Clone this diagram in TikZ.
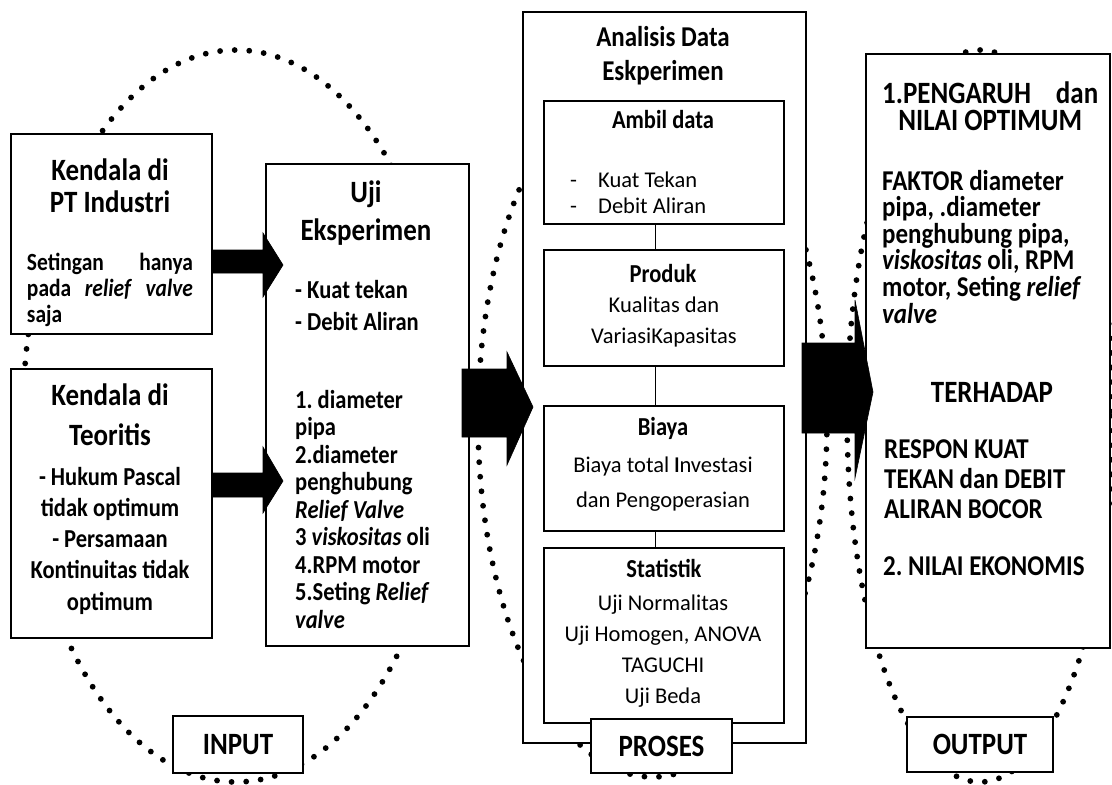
\documentclass[tikz,border=0pt]{standalone}
\usepackage{fontspec}
\setmainfont{Carlito}[BoldFeatures={FakeStretch=0.87},BoldItalicFeatures={FakeStretch=0.87}]
\newcommand\fsz[2]{\fontsize{#1pt}{#2pt}\selectfont\frenchspacing}
\newcommand\jline[2]{\leavevmode\hbox to #1pt{#2}}
\begin{document}
\begin{tikzpicture}[x=1pt,y=-1pt,
  box/.style={draw, line width=1.5pt, fill=white, inner sep=0pt, anchor=north west},
  lbl/.style={draw, line width=1.5pt, fill=white, inner sep=0pt, font=\bfseries\fsz{31}{36}},
  dotline/.style={line width=5.8pt, line cap=round, dash pattern=on 0pt off 14.6pt},
  blk/.style={fill=black, draw=black, line width=0.6pt, line join=miter},
  conn/.style={line width=1.4pt},
  ctxt/.style={inner sep=0pt, anchor=base, align=flush center, text width=240pt},
  ltxt/.style={inner sep=0pt, anchor=base west, align=flush left, text width=230pt},
  bd/.style={font=\bfseries\fsz{25.9}{30}}]
\useasboundingbox (0,0) rectangle (1112,785);
% dotted ellipses
\draw[dotline] (236,416) ellipse [x radius=213, y radius=366];
\draw[dotline] (652.5,420) ellipse [x radius=174.5, y radius=357];
\draw[dotline] (980,416) ellipse [x radius=133, y radius=366];
% INPUT column
\node[box, minimum width=201pt, minimum height=200pt] (kpt) at (10,133) {};
\node[box, minimum width=201pt, minimum height=269pt] (kt) at (10,368) {};
\node[box, minimum width=203pt, minimum height=482pt] (uji) at (265,163) {};
\node[ctxt, font=\bfseries\fsz{31}{32}, text width=195pt] (kptT) at (110,180) {Kendala di\\PT Industri};
\node[ctxt, font=\bfseries\fsz{24.7}{26}, text width=166pt] (kptB) at (110,270)
  {\jline{166}{Setingan\hfill hanya}\\\jline{166}{pada\hfill\textit{relief}\hfill\textit{valve}}\\\jline{166}{saja\hfill}};
\node[ctxt, font=\bfseries\fsz{31}{40}, text width=195pt] (ktT) at (110,405) {Kendala di\\Teoritis};
\node[ctxt, font=\bfseries\fsz{25.9}{31.3}, text width=195pt] (ktB) at (110,485)
  {- Hukum Pascal\\tidak optimum\\- Persamaan\\Kontinuitas tidak\\optimum};
\node[ctxt, font=\bfseries\fsz{31}{38}, text width=200pt] (ujiT) at (366,202) {Uji\\Eksperimen};
\node[ltxt, font=\bfseries\fsz{25.9}{32}, text width=170pt] (ujiA) at (295,298) {- Kuat tekan\\- Debit Aliran};
\node[ltxt, font=\bfseries\fsz{25.9}{27.5}, text width=170pt] (ujiB) at (295,408)
  {1. diameter\\pipa\\2.diameter\\penghubung\\\textit{Relief Valve}\\3 \textit{viskositas} oli\\4.RPM motor\\5.Seting \textit{Relief}\\\textit{valve}};
% PROSES column
\node[box, minimum width=283pt, minimum height=731pt] (ana) at (522,11) {};
\node[box, minimum width=240pt, minimum height=123pt] (ambil) at (543,100) {};
\node[box, minimum width=240pt, minimum height=116pt] (produk) at (543,249) {};
\node[box, minimum width=240pt, minimum height=125pt] (biaya) at (543,405) {};
\node[box, minimum width=240pt, minimum height=175pt] (stat) at (543,547) {};
\draw[conn] ([xshift=-8pt]ambil.south) -- ([xshift=-8pt]produk.north);
\draw[conn] ([xshift=-8pt]produk.south) -- ([xshift=-8pt]biaya.north);
\draw[conn] ([xshift=-8pt]biaya.south) -- ([xshift=-8pt]stat.north);
\node[ctxt, font=\bfseries\fsz{28.7}{34}] (anaT) at (663,46) {Analisis Data\\Eskperimen};
\node[ctxt, bd] (ambilT) at (663,128) {Ambil data};
\node[ltxt, font=\fsz{22.5}{26}] (ambilB) at (570,187)
  {\makebox[28pt][l]{-}Kuat Tekan\\\makebox[28pt][l]{-}Debit Aliran};
\node[ctxt, bd] (produkT) at (663,282) {Produk};
\node[ctxt, font=\fsz{22.5}{31}] (produkB) at (664,312) {Kualitas dan\\VariasiKapasitas};
\node[ctxt, bd] (biayaT) at (663,435) {Biaya};
\node[ctxt, font=\fsz{22.5}{35}] (biayaB) at (663,472) {Biaya total \textbf{I}nvestasi\\dan Pengoperasian};
\node[ctxt, bd] (statT) at (664,577) {Statistik};
\node[ctxt, font=\fsz{22.5}{31}] (statB) at (663,610) {Uji Normalitas\\Uji Homogen, ANOVA\\TAGUCHI\\Uji Beda};
% OUTPUT column
\node[box, minimum width=244pt, minimum height=594pt] (out) at (865,53) {};
\node[ltxt, font=\bfseries\fsz{31}{27.5}, text width=216pt] (outT) at (882,103)
  {\jline{216}{1.PENGARUH\hfill dan}\\\jline{216}{\hfill NILAI OPTIMUM\hfill}};
\node[ltxt, font=\bfseries\fsz{28.7}{26.6}, text width=220pt] (outB) at (882,190)
  {FAKTOR diameter\\pipa, .diameter\\penghubung pipa,\\\textit{viskositas} oli, RPM\\motor, Seting \textit{relief}\\\textit{valve}};
\node[ctxt, font=\bfseries\fsz{31}{30}] (terh) at (992,402) {TERHADAP};
\node[ltxt, font=\bfseries\fsz{28.7}{30}, text width=220pt] (resp) at (884,458) {RESPON KUAT\\TEKAN dan DEBIT\\ALIRAN BOCOR};
\node[ltxt, font=\bfseries\fsz{28.7}{30}, text width=220pt] (eko) at (883,575) {2. NILAI EKONOMIS};
% labels
\node[lbl, minimum width=130pt, minimum height=57pt] (input) at (238,744.5) {INPUT};
\node[lbl, minimum width=141pt, minimum height=54pt] (proses) at (661.5,746) {PROSES};
\node[lbl, minimum width=146pt, minimum height=55pt] (output) at (980,744.5) {OUTPUT};
% block arrows
\filldraw[blk] (212,250) -- (263,250) -- (263,233) -- (283,265) -- (263,297) -- (263,273) -- (212,273) -- cycle;
\filldraw[blk] (212,473) -- (263,473) -- (263,447) -- (283,481) -- (263,513) -- (263,497) -- (212,497) -- cycle;
\filldraw[blk] (462,369) -- (507,369) -- (507,352) -- (533,407) -- (507,465) -- (507,437) -- (462,437) -- cycle;
\filldraw[blk] (802,343) -- (855,343) -- (855,300) -- (873,392) -- (855,478) -- (855,433) -- (802,433) -- cycle;
\end{tikzpicture}
\end{document}
